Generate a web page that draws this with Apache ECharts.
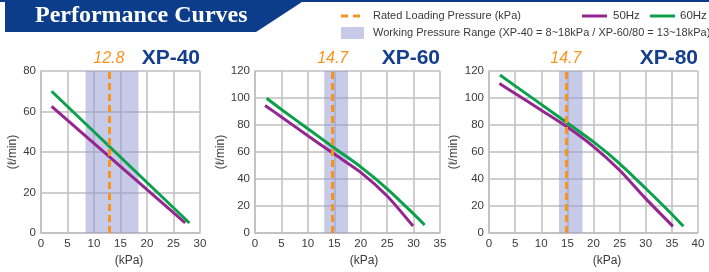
<!DOCTYPE html>
<html><head><meta charset="utf-8">
<script src="https://cdn.jsdelivr.net/npm/echarts@6/dist/echarts.min.js"></script>
<style>html,body{margin:0;padding:0;background:#fff}#c{width:709px;height:272px}</style>
</head><body><div id="c"></div>
<script>
// ---- data ----
const models = ['XP-40', 'XP-60', 'XP-80'];
const ratedKpa = [12.8, 14.7, 14.7];
const ratedLabels = ['12.8', '14.7', '14.7'];
const rangeFrom = [8.4, 13.1, 13.4];
const rangeTo = [18.4, 17.6, 17.9];
const xMax = [30, 35, 40];
const yMax = [80, 120, 120];

const xp40Kpa50 = [2, 27.2];
const xp40Flow50 = [62.5, 5];
const xp40Kpa60 = [2, 28];
const xp40Flow60 = [70, 5];

const xp60Kpa50 = [1.9, 5, 10, 15, 20, 25, 29.9];
const xp60Flow50 = [94.5, 86, 72, 58.5, 45, 27.5, 5.2];
const xp60Kpa60 = [2.2, 5, 10, 15, 20, 25, 30, 32.1];
const xp60Flow60 = [99.8, 91.5, 77.3, 63, 49, 32.8, 14.2, 6];

const xp80Kpa50 = [2, 5, 10, 15, 20, 25, 30, 35.2];
const xp80Flow50 = [110.7, 103.3, 91, 78.5, 64, 46.5, 25.5, 5];
const xp80Kpa60 = [2.1, 5, 10, 15, 20, 25, 30, 35, 37.2];
const xp80Flow60 = [117, 109, 95.3, 81.5, 67.5, 51.5, 33, 14, 5];

const kpa50 = [xp40Kpa50, xp60Kpa50, xp80Kpa50];
const flow50 = [xp40Flow50, xp60Flow50, xp80Flow50];
const kpa60 = [xp40Kpa60, xp60Kpa60, xp80Kpa60];
const flow60 = [xp40Flow60, xp60Flow60, xp80Flow60];

const legendRated = 'Rated Loading Pressure (kPa)';
const legendRange = 'Working Pressure Range (XP-40 = 8~18kPa / XP-60/80 = 13~18kPa)';
const mainTitle = 'Performance Curves';
const xName = '(kPa)';
const yName = '(\u2113/min)';

// ---- styles / layout ----
const FONT = '"Liberation Sans", Arial, sans-serif';
const C50 = '#93278f', C60 = '#0ba14b', CORANGE = '#f7941d', CBAND = 'rgba(143,151,207,0.5)', CGRID = '#bfbfbf', CTXT = '#3a3a3a', CBLUE = '#0c3d8a';
const boxes = [{left: 41, width: 159, yGap: 22, xPad: 17}, {left: 255, width: 185, yGap: 25, xPad: 33}, {left: 489, width: 209, yGap: 29, xPad: 27}];

const zip = (a, b) => a.map((v, i) => [v, b[i]]);
const grids = [], xAxes = [], yAxes = [], series = [], titles = [];
for (let i = 0; i < 3; i++) {
  const b = boxes[i];
  grids.push({left: b.left, top: 71, width: b.width, height: 168});
  xAxes.push({type: 'value', gridIndex: i, min: 0, max: xMax[i], interval: 5,
    axisLine: {show: true, lineStyle: {color: CGRID, width: 1.5}}, axisTick: {show: false},
    axisLabel: {color: CTXT, fontSize: 11.5, fontFamily: FONT, margin: 5},
    splitLine: {show: true, lineStyle: {color: CGRID, width: 1.5}},
    name: xName, nameLocation: 'middle', nameGap: 19,
    nameTextStyle: {color: CTXT, fontSize: 12, fontFamily: FONT, padding: [0, 0, 0, b.xPad]}});
  yAxes.push({type: 'value', gridIndex: i, min: 0, max: yMax[i], interval: 20,
    axisLine: {show: true, lineStyle: {color: CGRID, width: 1.5}}, axisTick: {show: false},
    axisLabel: {color: CTXT, fontSize: 11.5, fontFamily: FONT, margin: 5},
    splitLine: {show: true, lineStyle: {color: CGRID, width: 1.5}},
    name: yName, nameLocation: 'middle', nameGap: b.yGap,
    nameTextStyle: {color: CTXT, fontSize: 12, fontFamily: FONT}});
  series.push({type: 'line', xAxisIndex: i, yAxisIndex: i, data: [], z: -1, silent: true,
    markArea: {silent: true, itemStyle: {color: CBAND}, data: [[{xAxis: rangeFrom[i]}, {xAxis: rangeTo[i]}]]}});
  series.push({type: 'line', xAxisIndex: i, yAxisIndex: i, data: [], z: 1, silent: true,
    markLine: {silent: true, symbol: 'none', animation: false,
      lineStyle: {color: CORANGE, width: 3, type: [7, 4]},
      label: {show: true, position: 'end', distance: 4, formatter: ratedLabels[i], color: CORANGE, fontStyle: 'italic', fontSize: 16, fontFamily: FONT},
      data: [{xAxis: ratedKpa[i]}]}});
  series.push({name: '50Hz', type: 'line', xAxisIndex: i, yAxisIndex: i, data: zip(kpa50[i], flow50[i]),
    showSymbol: false, smooth: 0.25, lineStyle: {color: C50, width: 3}, itemStyle: {color: C50}, z: 3});
  series.push({name: '60Hz', type: 'line', xAxisIndex: i, yAxisIndex: i, data: zip(kpa60[i], flow60[i]),
    showSymbol: false, smooth: 0.25, lineStyle: {color: C60, width: 3}, itemStyle: {color: C60}, z: 3});
  titles.push({text: models[i], right: 709 - (b.left + b.width), top: 48, padding: 0,
    textStyle: {color: '#153f8c', fontSize: 21, fontWeight: 'bold', fontFamily: FONT}});
}

const graphic = [
  {type: 'rect', shape: {x: 0, y: 0, width: 709, height: 2}, style: {fill: CBLUE}},
  {type: 'polygon', shape: {points: [[5, 0], [305, 0], [256, 32], [5, 32]]}, style: {fill: CBLUE}},
  {type: 'text', style: {text: mainTitle, x: 35, y: 16, fill: '#fff', font: 'bold 24px "Liberation Serif", "Times New Roman", serif', verticalAlign: 'middle'}},
  {type: 'line', shape: {x1: 341, y1: 16, x2: 363, y2: 16}, style: {stroke: CORANGE, lineWidth: 3, lineDash: [7, 5]}},
  {type: 'text', style: {text: legendRated, x: 373, y: 16, fill: CTXT, font: '11px ' + FONT, verticalAlign: 'middle'}},
  {type: 'rect', shape: {x: 341, y: 27, width: 23, height: 12}, style: {fill: '#c7cbe7'}},
  {type: 'text', style: {text: legendRange, x: 373, y: 33, fill: CTXT, font: '11px ' + FONT, verticalAlign: 'middle'}},
  {type: 'line', shape: {x1: 582, y1: 16, x2: 607, y2: 16}, style: {stroke: C50, lineWidth: 3}},
  {type: 'text', style: {text: '50Hz', x: 613, y: 16, fill: CTXT, font: '11.5px ' + FONT, verticalAlign: 'middle'}},
  {type: 'line', shape: {x1: 650, y1: 16, x2: 675, y2: 16}, style: {stroke: C60, lineWidth: 3}},
  {type: 'text', style: {text: '60Hz', x: 680, y: 16, fill: CTXT, font: '11.5px ' + FONT, verticalAlign: 'middle'}}
];

const chart = echarts.init(document.getElementById('c'));
chart.setOption({animation: false, title: titles, grid: grids, xAxis: xAxes, yAxis: yAxes, series: series, graphic: graphic});
</script></body></html>
